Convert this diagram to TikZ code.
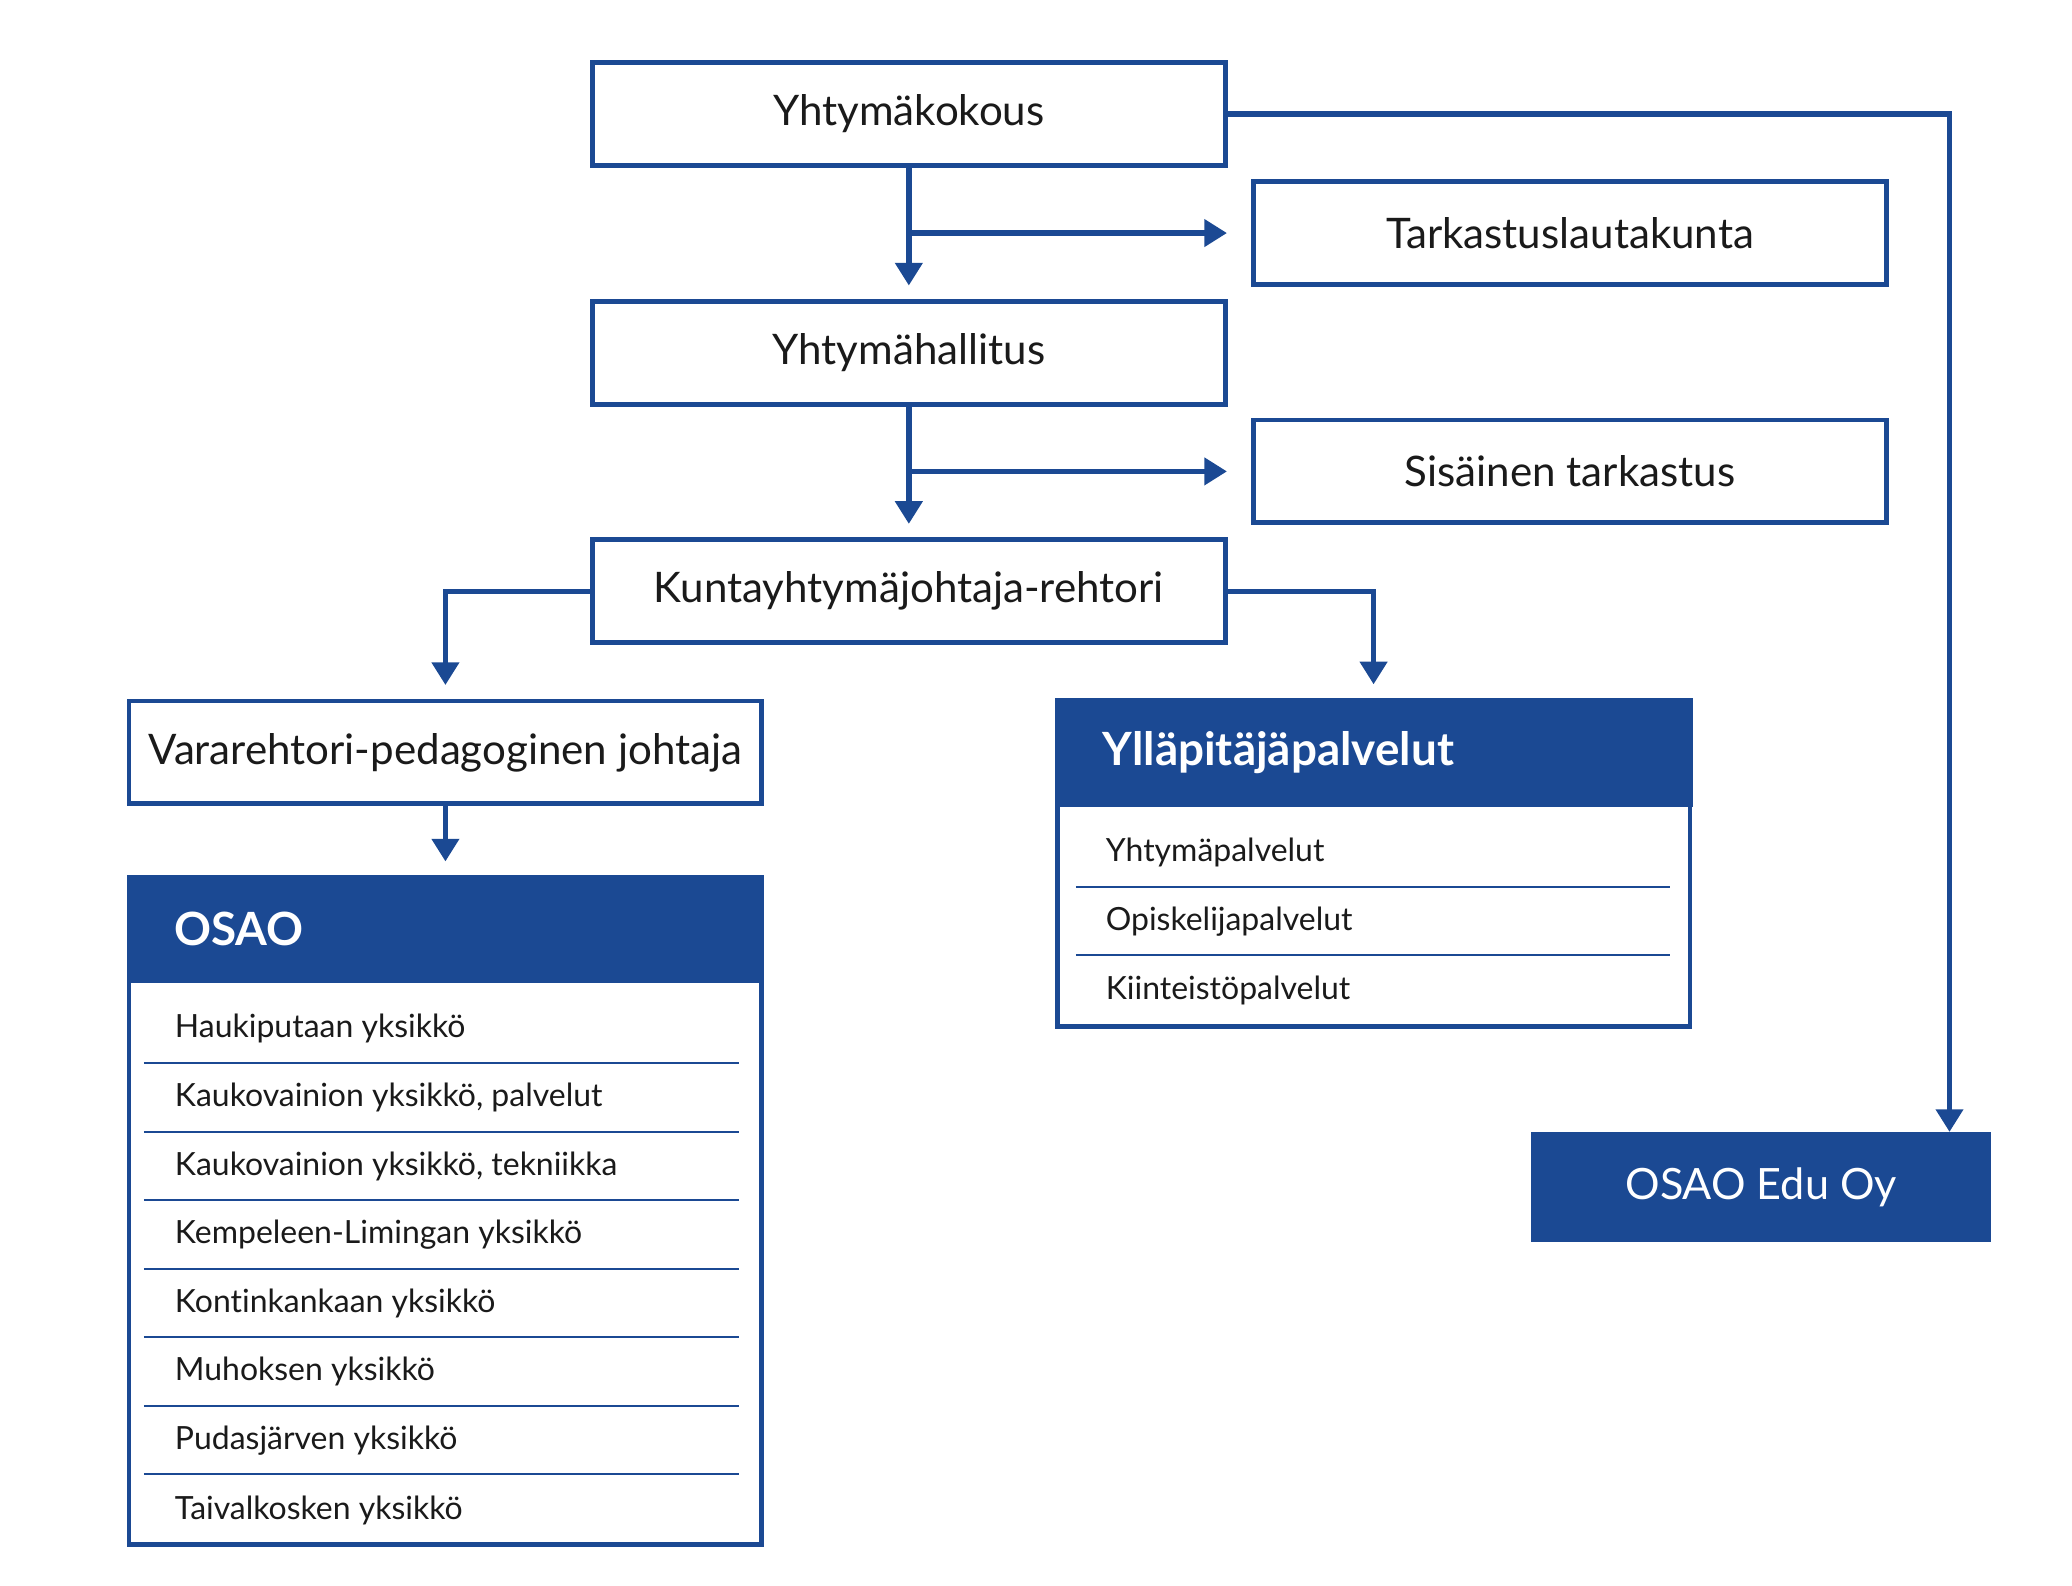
\documentclass[tikz,border=0pt]{standalone}
\usepackage{fontspec}
\setmainfont{Lato}[Ligatures=NoCommon]
\usetikzlibrary{arrows.meta}
\definecolor{oblue}{RGB}{27,73,147}
\definecolor{otext}{RGB}{26,26,26}
\begin{document}
\begin{tikzpicture}[x=0.5pt,y=-0.5pt,
  box/.style={draw=oblue,line width=1.85pt,fill=white,minimum width=237.6pt,minimum height=38.6pt,inner sep=0pt,outer sep=0pt,text=otext,font=\fontsize{15.8}{19}\selectfont},
  frame/.style={draw=oblue,line width=1.85pt,inner sep=0pt,outer sep=0pt},
  head/.style={fill=oblue,text=white,inner ysep=0pt,inner xsep=18pt,text width=203.5pt,align=left,outer sep=0pt,font=\bfseries\fontsize{17.2}{20}\selectfont},
  item/.style={anchor=west,inner sep=0pt,text=otext,font=\fontsize{12}{15}\selectfont},
  divider/.style={draw=oblue,line width=0.8pt},
  conn/.style={draw=oblue,line width=2pt,-{Triangle[length=8.5pt,width=10pt]}},
]
\useasboundingbox (0,0) rectangle (1556,1191);

% main boxes
\node[box] (kok) at (682.5,85.5) {\raisebox{-1pt}{Yhtymäkokous}};
\node[box] (tark) at (1179,175) {\raisebox{-1pt}{Tarkastuslautakunta}};
\node[box] (hall) at (682.5,265) {\raisebox{-1pt}{Yhtymähallitus}};
\node[box] (sis) at (1179,354) {\raisebox{-1pt}{Sisäinen tarkastus}};
\node[box] (kunta) at (682.5,444) {\raisebox{-1pt}{Kuntayhtymäjohtaja-rehtori}};
\node[box] (vara) at (334.5,565) {\raisebox{-1pt}{Vararehtori-pedagoginen johtaja}};

% OSAO block
\node[frame,minimum width=237.6pt,minimum height=250.6pt] (osao) at (334.5,909.5) {};
\node[head,minimum height=40.5pt] (osaoh) at (334.5,697.5) {OSAO};
\node[item] (o1) at (131,772) {Haukiputaan yksikkö};
\node[item] (o2) at (131,824) {Kaukovainion yksikkö, palvelut};
\node[item] (o3) at (131,876) {Kaukovainion yksikkö, tekniikka};
\node[item] (o4) at (131,927) {Kempeleen-Limingan yksikkö};
\node[item] (o5) at (131,979) {Kontinkankaan yksikkö};
\node[item] (o6) at (131,1030) {Muhoksen yksikkö};
\node[item] (o7) at (131,1082) {Pudasjärven yksikkö};
\node[item] (o8) at (131,1134) {Taivalkosken yksikkö};
\foreach \y in {798,850,901,953,1004,1056,1107}
  \draw[divider] (108,\y) -- (555,\y);

% Yllapitajapalvelut block
\node[frame,minimum width=237.6pt,minimum height=122.6pt] (yll) at (1031.5,648.5) {};
\node[head,minimum height=41pt] (yllh) at (1031.5,565) {Ylläpitäjäpalvelut};
\node[item] (y1) at (830,640) {Yhtymäpalvelut};
\node[item] (y2) at (830,692) {Opiskelijapalvelut};
\node[item] (y3) at (830,744) {Kiinteistöpalvelut};
\foreach \y in {666,717}
  \draw[divider] (808,\y) -- (1254,\y);

% OSAO Edu Oy
\node[fill=oblue,text=white,minimum width=172.5pt,minimum height=41.5pt,inner sep=0pt,outer sep=0pt,font=\fontsize{16.2}{20}\selectfont] (edu) at (1322.5,891.5) {OSAO Edu Oy};
\coordinate (edutop) at ([xshift=-15.5pt]edu.north east);

% connectors
\draw[conn,shorten >=6pt] (kok.south) -- (hall.north);
\draw[conn,shorten >=10pt] (kok.south |- tark.west) -- (tark.west);
\draw[conn,shorten >=6pt] (hall.south) -- (kunta.north);
\draw[conn,shorten >=10pt] (hall.south |- sis.west) -- (sis.west);
\draw[conn,shorten >=6pt] (kunta.west) -| (vara.north);
\draw[conn,shorten >=6pt] (kunta.east) -| (yll.north);
\draw[conn,shorten >=6pt] (vara.south) -- (osao.north);
\draw[conn] (kok.east) -| (edutop);
\end{tikzpicture}
\end{document}
